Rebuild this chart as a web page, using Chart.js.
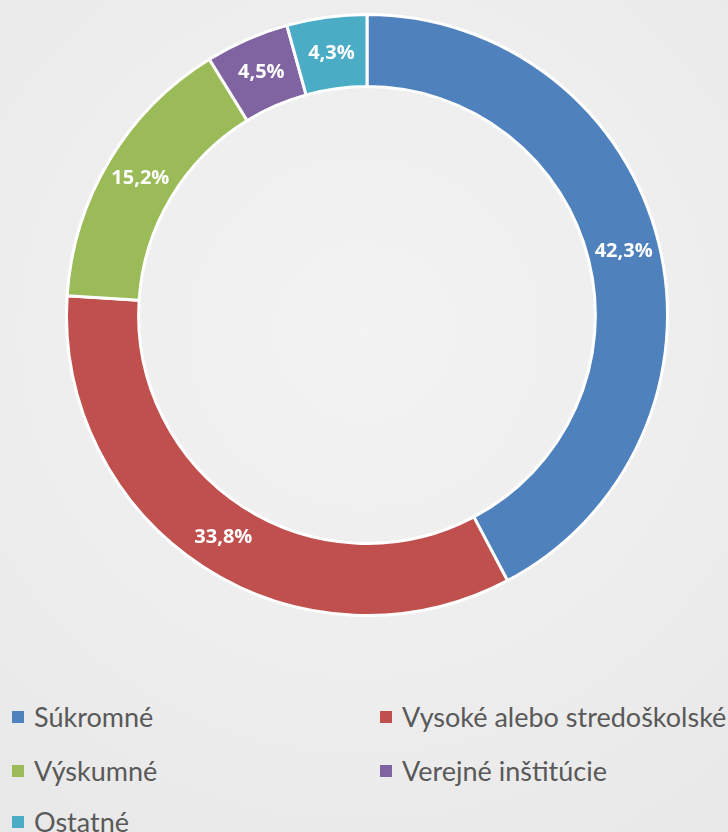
<!DOCTYPE html>
<html>
<head>
<meta charset="utf-8">
<script src="https://cdn.jsdelivr.net/npm/chart.js@4"></script>
<style>
  html, body { margin: 0; padding: 0; }
  body {
    width: 728px; height: 832px; overflow: hidden; position: relative;
    background: radial-gradient(circle at 50% 40%, #f3f3f3 0%, #ededed 60%, #e8e8e8 100%);
    font-family: Lato, "Open Sans", sans-serif;
  }
  #wrap { position: absolute; left: 0; top: 0; width: 728px; height: 630px; }
  #legend { position: absolute; left: 0; top: 700px; width: 728px; }
  .item { position: absolute; display: flex; align-items: center; color: #595959; font-size: 27px; white-space: nowrap; }
  .box { width: 12px; height: 12px; margin-right: 10px; }
</style>
</head>
<body>
<div id="wrap"><canvas id="pie" width="728" height="630"></canvas></div>
<div id="legend"></div>
<script>
var labels = ['Súkromné', 'Vysoké alebo stredoškolské', 'Výskumné', 'Verejné inštitúcie', 'Ostatné'];
var values = [42.3, 33.8, 15.2, 4.5, 4.3];
var colors = ['#4F81BD', '#C0504D', '#9BBB59', '#8064A2', '#4BACC6'];

// draws "42,3%" etc in the middle of each arc
var sliceLabels = {
  id: 'sliceLabels',
  afterDatasetsDraw: function (chart) {
    var ctx = chart.ctx;
    var meta = chart.getDatasetMeta(0);
    ctx.save();
    ctx.fillStyle = '#ffffff';
    ctx.font = 'bold 20px "Open Sans", sans-serif';
    ctx.textAlign = 'center';
    ctx.textBaseline = 'middle';
    meta.data.forEach(function (arc, i) {
      var p = arc.tooltipPosition();
      ctx.fillText(values[i].toFixed(1).replace('.', ',') + '%', p.x, p.y);
    });
    ctx.restore();
  }
};

var ctx = document.getElementById('pie').getContext('2d');
var pie = new Chart(ctx, {
  type: 'doughnut',
  data: {
    labels: labels,
    datasets: [{
      data: values,
      backgroundColor: colors,
      borderColor: '#ffffff',
      borderWidth: 3
    }]
  },
  options: {
    responsive: false,
    animation: false,
    cutout: '76%',
    layout: { padding: { top: 13, bottom: 13, left: 65, right: 59 } },
    plugins: {
      legend: { display: false },
      tooltip: { enabled: false }
    }
  },
  plugins: [sliceLabels]
});

// html legend, two columns
var legend = document.getElementById('legend');
var pos = [[12, 0], [380, 0], [12, 54], [380, 54], [12, 105]];
labels.forEach(function (l, i) {
  var d = document.createElement('div');
  d.className = 'item';
  d.style.left = pos[i][0] + 'px';
  d.style.top = pos[i][1] + 'px';
  d.innerHTML = '<span class="box" style="background:' + colors[i] + '"></span>' + l;
  legend.appendChild(d);
});
</script>
</body>
</html>
